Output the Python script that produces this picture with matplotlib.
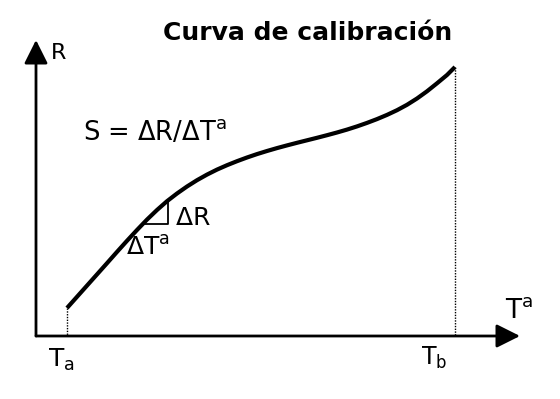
import matplotlib
matplotlib.use("Agg")
import matplotlib.pyplot as plt

plt.rcParams['font.family'] = ['DejaVu Sans']
plt.rcParams['mathtext.fontset'] = 'dejavusans'
plt.rcParams['mathtext.default'] = 'regular'

# Puntos de la curva (en píxeles)
curve_x = [67, 77, 87, 97, 107, 117, 127, 137, 147, 157, 167, 177, 187, 197,
           207, 217, 227, 237, 247, 257, 267, 277, 287, 297, 307, 317, 327,
           337, 347, 357, 367, 377, 387, 397, 407, 417, 427, 437, 447, 455]
curve_y = [308, 296.8, 285.6, 274.4, 263.2, 251.9, 240.8, 230, 219.6,
           210, 201.2, 193.5, 186.5, 180.2, 174.6, 169.6, 165.2, 161.2, 157.5,
           154.1, 151, 148.1, 145.4, 142.8, 140.3, 137.8, 135.2, 132.5, 129.6,
           126.4, 122.9, 119.1, 114.9, 110.2, 104.8, 98.5, 91.3, 83.3, 75, 67]

# Triángulo de pendiente
tri_x = [142, 168, 168]
tri_y = [224, 224, 201]

# Ejes
origin = (36, 336)
x_end = 520
y_end = 40

fig = plt.figure(figsize=(5.6, 3.99), dpi=100)
ax = fig.add_axes([0, 0, 1, 1])
ax.set_xlim(0, 560)
ax.set_ylim(399, 0)
ax.axis("off")

arrow = dict(arrowstyle='-|>,head_length=0.8,head_width=0.4', lw=2,
             color='black', mutation_scale=18, shrinkA=0, shrinkB=0)
ax.annotate('', xy=(x_end, origin[1]), xytext=origin, arrowprops=arrow)
ax.annotate('', xy=(origin[0], y_end), xytext=origin, arrowprops=arrow)

# Curva de calibración
ax.plot(curve_x, curve_y, color='black', lw=3, solid_capstyle='butt',
        solid_joinstyle='round')
ax.plot(tri_x, tri_y, color='black', lw=1.3)

# Líneas punteadas en Ta y Tb
ax.plot([curve_x[0], curve_x[0]], [curve_y[0], origin[1]], color='black',
        lw=1, linestyle=(0, (1, 1)))
ax.plot([curve_x[-1], curve_x[-1]], [curve_y[-1], origin[1]], color='black',
        lw=1, linestyle=(0, (1, 1)))

# Textos
ax.text(308, 39.5, 'Curva de calibración', fontsize=18, fontweight='bold',
        ha='center', va='baseline')
ax.text(51, 59.3, 'R', fontsize=16, va='baseline')
ax.text(83, 140, r'S = $\Delta$R/$\Delta$T$^{a}$', fontsize=18.5, va='baseline')
ax.text(175, 225, r'$\Delta$R', fontsize=18, va='baseline')
ax.text(126, 255, r'$\Delta$T$^{a}$', fontsize=18, va='baseline')
ax.text(505, 318, r'T$^{a}$', fontsize=19, va='baseline')
ax.text(48, 367, r'T$_{a}$', fontsize=18, va='baseline')
ax.text(421, 365, r'T$_{b}$', fontsize=17, va='baseline')

fig.savefig("out.png", dpi=100)
